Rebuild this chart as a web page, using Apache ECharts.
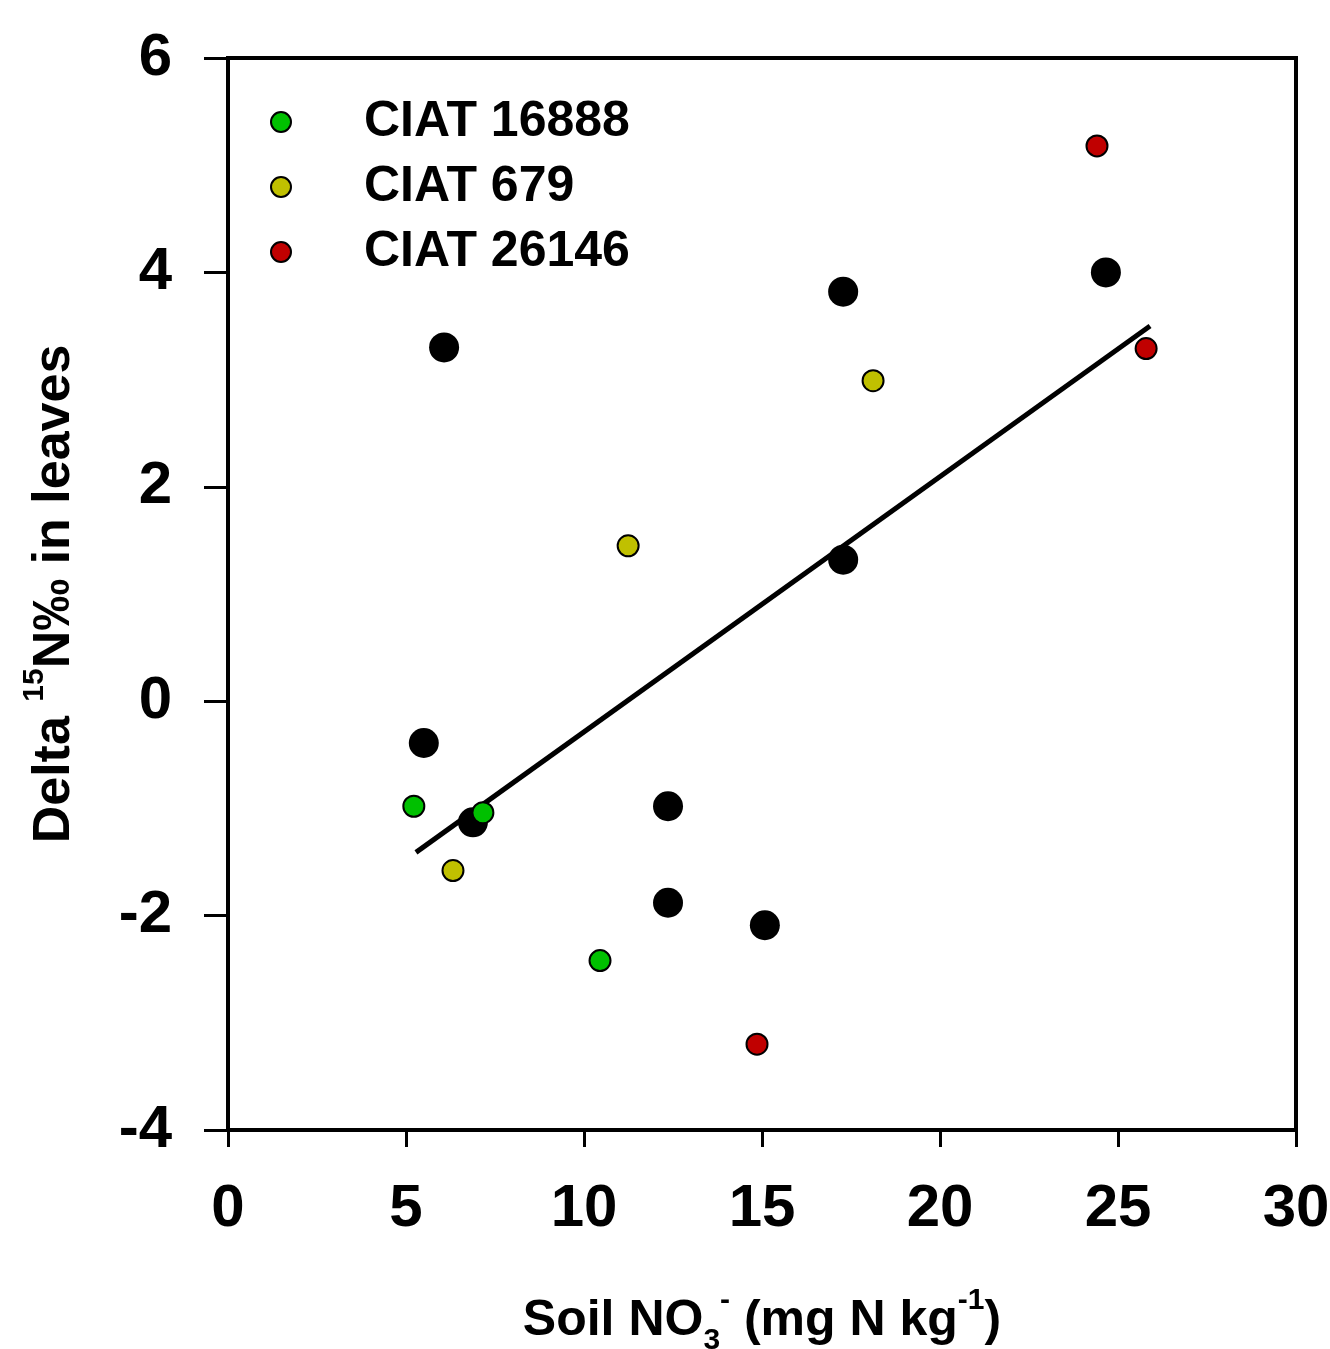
<!DOCTYPE html>
<html>
<head>
<meta charset="utf-8">
<script src="https://cdn.jsdelivr.net/npm/echarts@6/dist/echarts.min.js"></script>
<style>
  html, body { margin: 0; padding: 0; background: #fff; }
  #chart { width: 1330px; height: 1349px; }
</style>
</head>
<body>
<div id="chart"></div>
<script>
// 数据
const xTicks = [0, 5, 10, 15, 20, 25, 30];
const yTicks = [-4, -2, 0, 2, 4, 6];

const otherPts = [
  [6.07, 3.30], [5.5, -0.39], [6.88, -1.13], [12.36, -0.98], [12.36, -1.88],
  [15.08, -2.09], [17.28, 3.82], [17.28, 1.32], [24.66, 4.0]
];
const ciat16888 = [[5.22, -0.98], [7.16, -1.04], [10.45, -2.42]];
const ciat679 = [[6.32, -1.58], [11.24, 1.45], [18.12, 2.99]];
const ciat26146 = [[24.41, 5.18], [25.79, 3.29], [14.86, -3.20]];
const fitLine = [[5.28, -1.41], [25.9, 3.50]];

const font = "'Liberation Sans', Arial, sans-serif";

let chart = echarts.init(document.getElementById("chart"));

const colored = (name, color, data) => ({
  name: name,
  type: "scatter",
  symbol: "circle",
  symbolSize: 21,
  itemStyle: { color: color, borderColor: "#000", borderWidth: 2, opacity: 1 },
  emphasis: { disabled: true },
  data: data,
  z: 4,
});

let option = {
  animation: false,
  grid: {
    left: 228,
    right: 34,
    top: 58,
    bottom: 219,
    show: true,
    borderColor: "#000",
    borderWidth: 4,
    outerBoundsMode: "none",
    containLabel: false,
  },
  legend: {
    orient: "vertical",
    left: 265,
    top: 92,
    itemWidth: 20,
    itemHeight: 20,
    itemGap: 15,
    data: ["CIAT 16888", "CIAT 679", "CIAT 26146"],
    textStyle: {
      fontFamily: font,
      fontWeight: "bold",
      fontSize: 50,
      color: "#000",
      padding: [0, 0, 0, 68],
    },
  },
  xAxis: {
    type: "value",
    min: 0,
    max: 30,
    interval: 5,
    name: "{b|Soil NO}{sub|3}{sup|-}{b| (mg N kg}{sup|-1}{b|)}",
    nameLocation: "middle",
    nameGap: 156,
    nameTextStyle: {
      rich: {
        b: { fontFamily: font, fontWeight: "bold", fontSize: 50, color: "#000", lineHeight: 70 },
        sub: { fontFamily: font, fontWeight: "bold", fontSize: 30, color: "#000", verticalAlign: "bottom", lineHeight: 70, padding: [26, 0, 0, 0] },
        sup: { fontFamily: font, fontWeight: "bold", fontSize: 30, color: "#000", verticalAlign: "top", lineHeight: 70, padding: [0, 0, 24, 0] },
      },
    },
    axisLine: { show: true, onZero: false, lineStyle: { color: "#000", width: 4 } },
    axisTick: { show: true, inside: false, length: 17, lineStyle: { color: "#000", width: 3 } },
    axisLabel: {
      margin: 49,
      fontFamily: font,
      fontWeight: "bold",
      fontSize: 60,
      color: "#000",
      formatter: (v) => (xTicks.includes(v) ? String(v) : ""),
    },
    splitLine: { show: false },
  },
  yAxis: {
    type: "value",
    min: -4,
    max: 6,
    interval: 2,
    name: "{b|Delta }{sup|15}{b|N‰ in leaves}",
    nameLocation: "middle",
    nameGap: 138,
    nameRotate: 90,
    nameTextStyle: {
      rich: {
        b: { fontFamily: font, fontWeight: "bold", fontSize: 52, color: "#000", lineHeight: 70 },
        sup: { fontFamily: font, fontWeight: "bold", fontSize: 30, color: "#000", verticalAlign: "top", lineHeight: 70, padding: [0, 0, 24, 0] },
      },
    },
    axisLine: { show: true, onZero: false, lineStyle: { color: "#000", width: 4 } },
    axisTick: { show: true, inside: false, length: 24, lineStyle: { color: "#000", width: 3 } },
    axisLabel: {
      margin: 56,
      fontFamily: font,
      fontWeight: "bold",
      fontSize: 60,
      color: "#000",
      formatter: (v) => (yTicks.includes(v) ? String(v) : ""),
    },
    splitLine: { show: false },
  },
  series: [
    {
      name: "other",
      type: "scatter",
      symbol: "circle",
      symbolSize: 30,
      itemStyle: { color: "#000", opacity: 1 },
      emphasis: { disabled: true },
      data: otherPts,
      z: 2,
    },
    {
      name: "fit",
      type: "line",
      data: fitLine,
      symbol: "none",
      lineStyle: { color: "#000", width: 5 },
      emphasis: { disabled: true },
      z: 3,
    },
    colored("CIAT 16888", "#00C000", ciat16888),
    colored("CIAT 679", "#C0C000", ciat679),
    colored("CIAT 26146", "#C00000", ciat26146),
  ],
};
chart.setOption(option);
</script>
</body>
</html>
